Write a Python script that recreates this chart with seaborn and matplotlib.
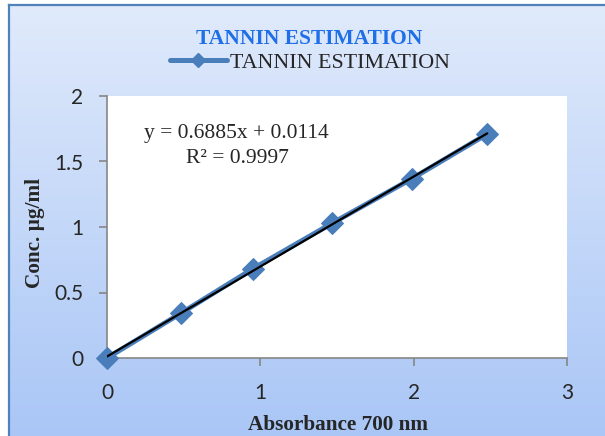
import numpy as np
import pandas as pd
import matplotlib
matplotlib.use("Agg")
import matplotlib.pyplot as plt
import seaborn as sns
from matplotlib.lines import Line2D

# data
absorbance = [0.0, 0.48, 0.95, 1.47, 1.99, 2.48]
conc = [0.0, 0.34, 0.68, 1.03, 1.37, 1.71]
x_ticks = [0, 1, 2, 3]
y_ticks = [0, 0.5, 1, 1.5, 2]
y_tick_labels = ["0", "0.5", "1", "1.5", "2"]

df = pd.DataFrame({"Absorbance": absorbance, "Conc": conc})

sns.set_style("white")
plt.rcParams["font.family"] = ["Liberation Serif", "DejaVu Serif"]

blue = "#4a7ebb"
fig = plt.figure(figsize=(6.05, 4.36), dpi=100)

# gradient background panel with border
bg = fig.add_axes([9 / 605, -0.01, 1 - 9 / 605 + 0.01, 1 - 5 / 436 + 0.01], zorder=-10)
grad = np.linspace(0, 1, 256).reshape(-1, 1)
cmap = matplotlib.colors.LinearSegmentedColormap.from_list("bg", ["#a9c6f6", "#e0eafb"])
bg.imshow(grad, aspect="auto", cmap=cmap, extent=[0, 1, 0, 1], origin="lower")
bg.set_xticks([])
bg.set_yticks([])
for s in bg.spines.values():
    s.set_color("#4f81bd")
    s.set_linewidth(1.6)

ax = fig.add_axes([107 / 605, 78 / 436, 460 / 605, 262 / 436])
ax.set_facecolor("white")

sns.lineplot(data=df, x="Absorbance", y="Conc", ax=ax, color=blue, linewidth=3.6,
             marker="D", markersize=11, markeredgecolor=blue, zorder=3, clip_on=False)
sns.regplot(data=df, x="Absorbance", y="Conc", ax=ax, scatter=False, ci=None,
            line_kws={"color": "black", "linewidth": 1.6, "zorder": 4})

ax.text(0.842, 1.715, "y = 0.6885x + 0.0114", ha="center", va="center", fontsize=15.5)
ax.text(0.848, 1.525, "R² = 0.9997", ha="center", va="center", fontsize=15.5)

ax.set_xlim(0, 3)
ax.set_ylim(0, 2)
ax.set_xticks(x_ticks)
ax.set_yticks(y_ticks)
ax.set_yticklabels(y_tick_labels)
for lab in ax.get_xticklabels() + ax.get_yticklabels():
    lab.set_family("Lato")
    lab.set_fontsize(15)
ax.tick_params(axis="both", direction="out", length=6, width=1.2, color="#868686",
               left=True, bottom=True)
ax.tick_params(axis="x", pad=12)
ax.tick_params(axis="y", pad=11)
for side in ["top", "right"]:
    ax.spines[side].set_visible(False)
for side in ["left", "bottom"]:
    ax.spines[side].set_color("#868686")
    ax.spines[side].set_linewidth(1.2)

ax.set_xlabel("Absorbance 700 nm", fontsize=15.3, fontweight="bold", labelpad=2)
ax.set_ylabel("Conc. µg/ml", fontsize=15.3, fontweight="bold", labelpad=8)
ax.xaxis.set_label_coords(0.502, -(425 - 358) / 262)
ax.yaxis.set_label_coords(-(107 - 35) / 460, (358 - 233) / 262)
ax.xaxis.label.set_va("center")
ax.yaxis.label.set_va("center")

fig.text(309 / 605, 1 - 39 / 436, "TANNIN ESTIMATION", ha="center", va="center",
         fontsize=15.5, fontweight="bold", color="#1f6fe8")

handle = Line2D([], [], color=blue, linewidth=3.6, marker="D", markersize=7)
fig.legend([handle], ["TANNIN ESTIMATION"], loc="center", bbox_to_anchor=(310 / 605, 1 - 63 / 436),
           frameon=False, fontsize=15.8, handlelength=2.6, handletextpad=0.15,
           borderpad=0, borderaxespad=0)

fig.savefig("out.png", dpi=100)
